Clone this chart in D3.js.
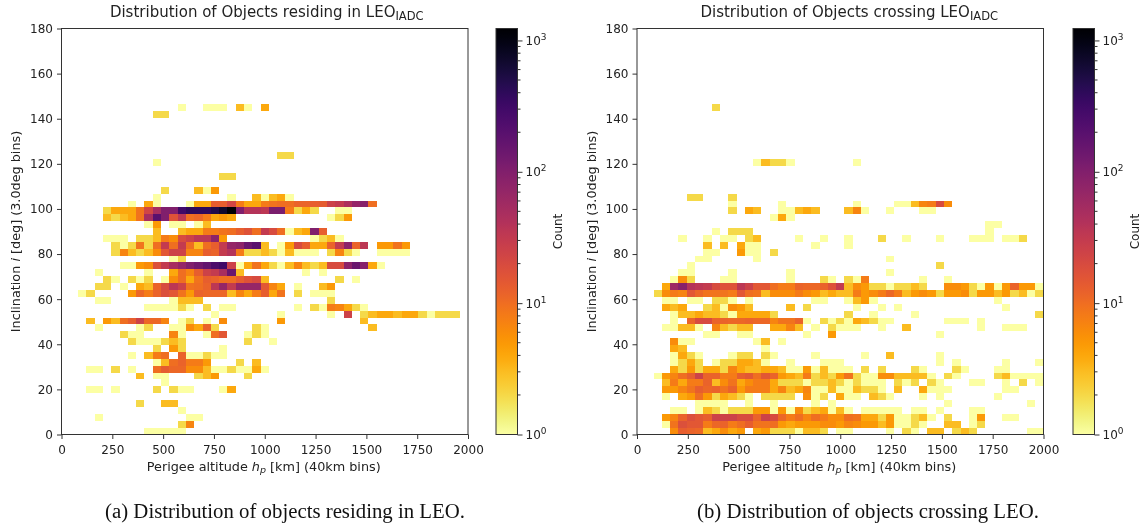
<!DOCTYPE html>
<html>
<head>
<meta charset="utf-8">
<script src="https://cdn.jsdelivr.net/npm/d3@7"></script>
<style>
body { margin: 0; background: #fff; }
svg { display: block; filter: blur(0.35px); }
text { font-family: "DejaVu Sans", sans-serif; fill: #222; }
.caption { font-family: "Liberation Serif", serif; fill: #111; }
.heat { filter: blur(0.3px); }
</style>
</head>
<body>
<div id="chart"></div>
<script>
var width = 1145;
var height = 526;

var altitudeTicks = [0, 250, 500, 750, 1000, 1250, 1500, 1750, 2000];
var inclinationTicks = [0, 20, 40, 60, 80, 100, 120, 140, 160, 180];
var altitudeBinCount = 49;
var inclinationBinCount = 59;

// each row: [inclination bin, {altitude bin: count}]
var residingCounts = [
  [47, {14:1, 17:1, 18:1, 19:1, 21:3, 22:1, 24:4}],
  [46, {11:2, 12:2}],
  [40, {26:2, 27:2}],
  [39, {11:1}],
  [37, {19:2, 20:2}],
  [35, {12:2, 16:3, 17:1, 18:5}],
  [34, {11:1, 20:1, 23:3, 24:1, 25:3, 26:4, 27:1}],
  [33, {8:1, 10:4, 11:1, 15:1, 16:4, 17:4, 18:13, 19:13, 20:22, 21:8, 22:4, 23:4, 24:8, 25:9, 26:10, 27:10, 28:12, 29:12, 30:13, 31:14, 32:25, 33:30, 34:45, 35:70, 36:90, 37:10}],
  [32, {5:2, 6:4, 7:4, 8:4, 9:9, 10:22, 11:50, 12:100, 13:100, 14:300, 15:400, 16:400, 17:400, 18:500, 19:700, 20:1200, 21:100, 22:40, 23:40, 24:35, 25:110, 26:110, 27:8, 28:2, 29:4, 30:2, 33:1, 34:1}],
  [31, {5:3, 6:2, 7:3, 8:4, 9:9, 10:50, 11:200, 12:100, 13:17, 14:35, 15:10, 16:11, 17:8, 18:4, 19:5, 20:4, 32:1, 33:2, 34:5}],
  [30, {10:1, 11:5, 13:1, 14:1, 16:1, 17:3}],
  [29, {11:3, 14:3, 15:4, 16:4, 17:8, 18:8, 19:9, 20:10, 21:13, 22:17, 23:10, 24:30, 25:20, 26:10, 27:1, 28:3, 29:4, 30:100, 31:13}],
  [28, {5:1, 6:1, 7:1, 9:2, 10:2, 11:3, 12:8, 13:6, 14:20, 15:25, 16:35, 17:35, 18:80, 19:5, 30:1, 31:2, 32:3, 33:1}],
  [27, {6:2, 7:1, 8:2, 9:9, 10:2, 11:10, 12:30, 13:10, 14:30, 15:10, 16:3, 17:10, 18:13, 19:30, 20:70, 21:80, 22:150, 23:200, 24:3, 26:1, 27:5, 28:20, 29:13, 30:4, 31:4, 32:12, 33:30, 34:80, 35:12, 36:35, 38:5, 39:5, 40:9, 41:5}],
  [26, {6:2, 7:7, 8:3, 9:2, 10:3, 11:6, 12:15, 13:25, 14:25, 15:7, 16:7, 17:13, 18:12, 19:30, 20:40, 21:8, 22:2, 23:2, 24:3, 25:2, 26:1, 27:3, 28:1, 29:1, 30:1, 32:2, 33:7, 34:2, 35:1, 38:1, 39:1, 40:1, 41:1}],
  [25, {13:1, 14:2}],
  [24, {7:1, 8:1, 9:5, 10:6, 11:18, 12:30, 13:50, 14:70, 15:100, 16:130, 17:170, 18:250, 19:300, 20:25, 21:1, 22:4, 23:9, 24:4, 25:2, 26:1, 27:3, 28:7, 29:3, 30:2, 31:3, 32:20, 33:20, 34:80, 35:150, 36:90, 37:4, 38:1}],
  [23, {4:1, 10:1, 13:4, 14:10, 15:7, 16:13, 17:25, 18:30, 19:50, 20:150, 21:3, 29:1, 31:1}],
  [22, {5:2, 6:1, 8:2, 9:1, 10:2, 12:1, 13:6, 14:10, 15:4, 16:9, 17:13, 18:12, 19:10, 20:10, 21:13, 22:17, 23:20, 24:3, 33:2, 35:1}],
  [21, {4:2, 5:2, 7:1, 9:4, 10:3, 11:12, 12:20, 13:35, 14:25, 15:9, 16:10, 17:12, 18:35, 19:70, 20:30, 21:70, 22:70, 23:70, 24:15, 25:7, 26:4, 28:1, 31:3, 32:5}],
  [20, {2:1, 3:2, 8:5, 9:11, 10:8, 11:12, 12:18, 13:15, 14:9, 15:5, 16:12, 17:11, 18:11, 19:11, 20:3, 21:7, 22:4, 23:8, 24:13, 25:4, 26:9, 28:2, 30:1, 31:1, 32:1}],
  [19, {4:1, 5:1, 13:1, 14:3, 15:3, 16:3, 32:2}],
  [18, {10:1, 11:1, 12:1, 13:1, 14:2, 15:1, 17:2, 19:1, 20:1, 28:1, 30:2, 31:1, 32:8, 33:7, 34:4, 35:2, 36:1}],
  [17, {18:1, 26:1, 32:1, 34:25, 36:2, 37:3, 38:4, 39:4, 40:3, 41:4, 42:4, 43:2, 44:1, 45:2, 46:2, 47:2}],
  [16, {3:3, 5:5, 6:3, 7:10, 8:13, 9:25, 10:11, 11:11, 12:7, 14:1, 15:2, 17:1, 19:6, 26:5, 36:3}],
  [15, {4:1, 9:1, 10:2, 13:1, 14:1, 15:6, 16:4, 17:12, 18:2, 23:2, 24:1, 37:3}],
  [14, {7:2, 8:1, 9:1, 13:7, 14:1, 17:1, 18:10, 19:15, 22:1, 23:2, 24:1}],
  [13, {8:2, 9:1, 10:1, 11:1, 12:2, 13:3, 14:2, 22:2, 25:1}],
  [12, {11:2, 13:5, 14:2, 19:1}],
  [11, {8:1, 10:3, 11:8, 12:10, 14:12, 15:1, 16:1, 17:2, 18:1, 19:1}],
  [10, {11:1, 12:3, 13:10, 14:12, 15:8, 16:8, 17:5, 21:2, 23:3}],
  [9, {3:1, 4:1, 6:2, 8:1, 11:10, 12:14, 13:11, 14:11, 15:6, 16:6, 17:3, 18:1, 19:1, 20:2, 21:1, 22:1, 23:4, 24:1}],
  [8, {9:3, 11:1, 12:1, 16:2, 17:3, 18:5, 22:2}],
  [7, {12:1}],
  [6, {3:1, 4:1, 6:1, 11:2, 13:2, 14:1, 15:1, 19:1, 20:4}],
  [4, {9:2, 12:3, 13:3}],
  [3, {14:1}],
  [2, {4:1, 15:1, 16:1}],
  [1, {14:2, 15:7}],
  [0, {10:1, 11:1, 12:1, 13:1, 14:1}]
];

var crossingCounts = [
  [47, {9:2}],
  [39, {14:1, 15:3, 16:2, 17:2, 18:1, 26:1}],
  [34, {6:2, 7:2, 11:2}],
  [33, {11:1, 17:1, 26:1, 31:1, 32:1, 33:3, 34:7, 35:8, 36:20, 37:6}],
  [32, {11:2, 13:4, 14:3, 17:1, 18:1, 19:3, 20:4, 21:3, 25:3, 26:7, 27:1, 30:1, 34:1, 35:1}],
  [31, {16:1, 17:4, 18:1}],
  [30, {42:1, 43:1}],
  [29, {9:1, 11:2, 12:2, 13:2, 42:1}],
  [28, {5:1, 8:1, 10:1, 11:1, 13:2, 14:3, 19:1, 22:1, 25:1, 29:2, 32:1, 36:1, 40:1, 41:1, 42:1, 44:1, 45:1, 46:2}],
  [27, {8:3, 10:3, 12:4, 13:1, 14:1, 21:1, 25:1}],
  [26, {8:1, 9:1, 12:5, 13:1, 14:1, 16:2}],
  [25, {7:1, 8:1, 14:1, 30:1}],
  [24, {6:1, 36:2}],
  [23, {5:1, 6:1, 11:1, 18:1, 30:1}],
  [22, {4:1, 5:6, 6:2, 10:1, 11:1, 18:1, 22:2, 23:1, 25:2, 26:1, 27:8, 34:1, 37:1}],
  [21, {3:4, 4:60, 5:90, 6:40, 7:35, 8:30, 9:20, 10:17, 11:17, 12:35, 13:25, 14:15, 15:15, 16:10, 17:8, 18:8, 19:12, 20:11, 21:11, 22:12, 23:17, 24:30, 25:3, 26:6, 27:5, 28:2, 29:2, 30:1, 31:2, 32:2, 33:3, 34:2, 37:6, 38:6, 39:5, 40:2, 41:1, 42:5, 43:1, 44:5, 45:12, 46:5, 47:5, 48:1}],
  [20, {2:2, 3:6, 4:8, 5:7, 6:15, 7:11, 8:9, 9:9, 10:9, 11:8, 12:15, 13:10, 14:9, 15:3, 16:6, 17:6, 18:6, 19:8, 20:6, 21:5, 22:3, 23:4, 24:3, 25:3, 26:8, 27:5, 28:6, 29:8, 30:11, 31:8, 32:3, 33:5, 34:6, 35:5, 36:2, 37:5, 38:5, 39:6, 40:2, 41:5, 42:5, 43:3, 44:5, 45:2, 46:3, 47:1, 48:2}],
  [19, {3:1, 4:1, 6:1, 7:1, 9:2, 10:2, 11:1, 13:1, 21:1, 22:1, 25:1, 26:3, 27:5, 28:1, 43:1}],
  [18, {3:4, 4:3, 5:4, 8:2, 9:3, 10:1, 11:6, 12:5, 13:3, 18:3, 20:2, 26:1, 29:1, 31:1, 44:1}],
  [17, {4:1, 5:3, 6:3, 7:4, 8:3, 9:3, 10:2, 11:1, 12:4, 13:4, 14:4, 15:4, 16:2, 25:2, 28:1, 33:1, 48:2}],
  [16, {4:1, 6:12, 7:20, 8:20, 9:12, 10:12, 11:11, 12:11, 13:12, 14:11, 15:11, 16:7, 17:9, 18:9, 19:12, 20:1, 22:2, 23:1, 24:2, 25:1, 26:4, 27:3, 28:2, 29:1, 30:1, 37:1, 38:1, 39:1, 41:1}],
  [15, {3:1, 4:1, 5:3, 6:3, 7:1, 9:7, 10:3, 11:2, 12:3, 13:3, 16:4, 17:4, 18:7, 19:3, 21:1, 23:2, 24:1, 25:1, 26:1, 29:1, 32:3, 41:1, 44:1, 45:1, 46:1}],
  [14, {8:1, 9:1, 12:1, 13:1, 20:1, 23:5, 36:1}],
  [13, {4:6, 5:1, 6:1, 14:1, 15:3, 17:1}],
  [12, {4:4, 5:3, 15:1}],
  [11, {4:1, 5:4, 6:2, 7:1, 11:1, 12:2, 13:2, 15:2, 16:1, 21:1, 27:1, 30:3, 36:1}],
  [10, {4:1, 5:2, 6:4, 7:2, 9:1, 10:2, 11:2, 12:4, 13:4, 14:3, 15:1, 18:1, 22:1, 23:1, 24:1, 36:1, 38:1, 44:1, 48:1}],
  [9, {4:4, 5:2, 6:5, 7:2, 8:4, 9:4, 10:2, 11:7, 12:4, 13:3, 14:3, 15:4, 16:4, 17:3, 18:1, 19:1, 20:5, 21:1, 22:3, 23:1, 24:1, 25:1, 27:2, 29:2, 33:2, 34:1, 38:2, 39:1, 43:1, 44:1}],
  [8, {2:1, 3:5, 4:7, 5:10, 6:13, 7:25, 8:12, 9:12, 10:8, 11:8, 12:13, 13:15, 14:10, 15:15, 16:12, 17:5, 18:4, 19:3, 20:8, 21:2, 22:3, 23:2, 24:5, 25:9, 26:2, 27:1, 28:1, 29:6, 30:6, 31:3, 32:3, 33:3, 34:3, 35:1, 37:2, 38:1, 43:2, 44:3, 45:1, 46:1, 47:1, 48:1}],
  [7, {3:3, 4:8, 5:4, 6:8, 7:8, 8:12, 9:3, 10:6, 11:9, 12:4, 13:6, 14:8, 15:8, 16:4, 17:2, 18:2, 19:2, 20:1, 21:2, 22:2, 23:3, 24:2, 25:1, 26:2, 27:1, 28:1, 29:1, 31:2, 32:1, 33:2, 35:2, 36:1, 40:1, 41:1, 44:1, 46:2, 48:1}],
  [6, {3:5, 4:5, 5:7, 6:9, 7:13, 8:11, 9:12, 10:9, 11:12, 12:5, 13:8, 14:8, 15:8, 16:4, 17:7, 18:3, 19:4, 20:7, 21:1, 22:1, 23:3, 24:1, 25:1, 26:3, 27:2, 28:2, 29:1, 31:3, 34:4, 35:1, 36:1, 37:1, 44:1, 45:1}],
  [5, {3:1, 5:4, 6:5, 7:10, 8:5, 9:2, 10:4, 11:3, 12:2, 13:1, 15:2, 16:2, 17:2, 18:2, 20:6, 21:1, 22:2, 24:4, 25:1, 26:1, 28:3, 29:2, 30:1, 34:1, 36:1, 43:1}],
  [4, {7:1, 8:1, 9:1, 10:1, 13:1, 16:1, 21:1, 23:1, 37:1, 47:1}],
  [3, {4:1, 5:1, 7:1, 8:3, 9:2, 10:1, 11:2, 12:2, 13:2, 14:5, 15:5, 16:1, 17:5, 18:1, 19:6, 20:2, 21:3, 22:4, 23:1, 24:3, 25:1, 27:1, 28:1, 29:1, 30:1, 31:1, 33:1, 34:1, 36:1, 40:1, 41:1}],
  [2, {3:5, 4:7, 5:12, 6:18, 7:15, 8:13, 9:25, 10:25, 11:25, 12:20, 13:20, 14:12, 15:25, 16:20, 17:11, 18:8, 19:10, 20:7, 21:10, 22:8, 23:6, 24:6, 25:10, 26:9, 27:4, 28:4, 29:2, 30:5, 31:1, 32:1, 33:2, 34:3, 35:1, 37:2, 40:1, 41:5, 44:1, 45:1}],
  [1, {3:1, 4:9, 5:18, 6:15, 7:15, 8:8, 9:11, 10:12, 11:8, 12:10, 13:13, 14:9, 15:9, 16:10, 17:5, 18:4, 19:5, 20:5, 21:5, 22:6, 23:6, 24:5, 25:7, 26:6, 27:5, 28:5, 29:3, 30:5, 31:1, 32:1, 33:2, 34:1, 37:3, 38:3, 40:1, 41:2}],
  [0, {4:6, 5:13, 6:12, 7:11, 8:3, 9:4, 10:6, 11:4, 12:5, 14:4, 15:5, 16:2, 17:2, 18:2, 19:1, 20:3, 21:3, 22:2, 24:1, 25:1, 30:1, 32:2, 33:1, 35:3, 36:3, 38:2, 39:3, 40:2, 47:1, 48:1}]
];

var color = d3.scaleSequentialLog(function(t){ return d3.interpolateInferno(1 - t); })
              .domain([1, 1233]);

var svg = d3.select("#chart")
            .append("svg")
            .attr("width", width)
            .attr("height", height);

// colorbar gradient shared by both panels
var gradient = svg.append("defs").append("linearGradient")
                  .attr("id", "cbar")
                  .attr("x1", 0).attr("y1", 1).attr("x2", 0).attr("y2", 0);
gradient.selectAll("stop")
        .data(d3.range(0, 1.001, 0.02))
        .enter()
        .append("stop")
        .attr("offset", function(d){ return d; })
        .attr("stop-color", function(d){ return d3.interpolateInferno(1 - d); });

function drawPanel(opts){
    var left = opts.left;
    var right = left + 406.5;
    var top = 28.5;
    var bottom = 434.5;

    var xScale = d3.scaleLinear().domain([0, 2000]).range([left, right]);
    var yScale = d3.scaleLinear().domain([0, 180]).range([bottom, top]);
    var xBin = 2000 / altitudeBinCount;
    var yBin = 180 / inclinationBinCount;

    var cells = [];
    opts.rows.forEach(function(row){
        Object.keys(row[1]).forEach(function(c){
            cells.push({ k: row[0], c: +c, count: row[1][c] });
        });
    });

    svg.append("g")
       .attr("class", "heat")
       .selectAll("rect")
       .data(cells)
       .enter()
       .append("rect")
       .attr("shape-rendering", "crispEdges")
       .attr("x", function(d){ return xScale(d.c * xBin); })
       .attr("y", function(d){ return yScale((d.k + 1) * yBin); })
       .attr("width", function(d){ return xScale((d.c + 1) * xBin) - xScale(d.c * xBin); })
       .attr("height", function(d){ return yScale(d.k * yBin) - yScale((d.k + 1) * yBin); })
       .attr("fill", function(d){ return color(d.count); });

    svg.append("rect")
       .attr("x", left).attr("y", top)
       .attr("width", right - left).attr("height", bottom - top)
       .attr("fill", "none").attr("stroke", "#333").attr("stroke-width", 1);

    var xAxis = d3.axisBottom(xScale).tickValues(altitudeTicks).tickSize(4.5).tickPadding(6).tickFormat(d3.format("d"));
    var yAxis = d3.axisLeft(yScale).tickValues(inclinationTicks).tickSize(4.5).tickPadding(4).tickFormat(d3.format("d"));

    var gx = svg.append("g").attr("transform", "translate(0," + bottom + ")").call(xAxis);
    var gy = svg.append("g").attr("transform", "translate(" + left + ",0)").call(yAxis);
    [gx, gy].forEach(function(g){
        g.select(".domain").remove();
        g.selectAll("line").attr("stroke", "#333");
        g.selectAll("text").style("font-size", "12px").style("font-family", '"DejaVu Sans"').attr("fill", "#222");
    });

    // title with subscript
    var title = svg.append("text")
                   .attr("x", (left + right) / 2 + opts.titleShift)
                   .attr("y", 17)
                   .attr("text-anchor", "middle")
                   .style("font-size", "15px");
    title.append("tspan").text(opts.title);
    title.append("tspan").attr("dy", 3).style("font-size", "11.5px").text("IADC");

    var xl = svg.append("text")
                .attr("x", (left + right) / 2 - 1)
                .attr("y", 471)
                .attr("text-anchor", "middle")
                .style("font-size", "12.8px");
    xl.append("tspan").text("Perigee altitude ");
    xl.append("tspan").style("font-style", "italic").text("h");
    xl.append("tspan").style("font-style", "italic").style("font-size", "9.5px").attr("dy", 2).text("p");
    xl.append("tspan").attr("dy", -2).text(" [km] (40km bins)");

    var yl = svg.append("text")
                .attr("transform", "translate(" + (left - 41.5) + "," + ((top + bottom) / 2) + ") rotate(-90)")
                .attr("text-anchor", "middle")
                .style("font-size", "12.8px");
    yl.append("tspan").text("Inclination ");
    yl.append("tspan").style("font-style", "italic").text("i");
    yl.append("tspan").text(" [deg] (3.0deg bins)");

    // colorbar
    var cbLeft = opts.cbLeft;
    var cbWidth = 21.5;
    var cScale = d3.scaleLog().domain([1, 1233]).range([bottom, top]);

    svg.append("rect")
       .attr("x", cbLeft).attr("y", top)
       .attr("width", cbWidth).attr("height", bottom - top)
       .attr("fill", "url(#cbar)")
       .attr("stroke", "#333").attr("stroke-width", 1);

    var minorTicks = [];
    [1, 10, 100, 1000].forEach(function(base){
        d3.range(2, 10).forEach(function(m){
            if (base * m < 1233) minorTicks.push(base * m);
        });
    });
    var gc = svg.append("g").attr("transform", "translate(" + (cbLeft + cbWidth) + ",0)");
    gc.selectAll("line.minor")
      .data(minorTicks)
      .enter()
      .append("line")
      .attr("x2", 3)
      .attr("y1", function(d){ return cScale(d); })
      .attr("y2", function(d){ return cScale(d); })
      .attr("stroke", "#333");
    gc.call(d3.axisRight(cScale).tickValues([1, 10, 100, 1000]).tickSize(5).tickFormat(""));
    gc.select(".domain").remove();
    gc.selectAll(".tick line").attr("stroke", "#333");

    [[1, "0"], [10, "1"], [100, "2"], [1000, "3"]].forEach(function(d){
        var t = svg.append("text")
                   .attr("x", cbLeft + cbWidth + 8)
                   .attr("y", cScale(d[0]) + 4.5)
                   .style("font-size", "12px");
        t.append("tspan").text("10");
        t.append("tspan").attr("dy", -5).style("font-size", "9px").text(d[1]);
    });

    svg.append("text")
       .attr("transform", "translate(" + (cbLeft + 66) + "," + ((top + bottom) / 2) + ") rotate(-90)")
       .attr("text-anchor", "middle")
       .style("font-size", "12px")
       .text("Count");

    svg.append("text")
       .attr("class", "caption")
       .attr("x", opts.captionX)
       .attr("y", 518)
       .attr("text-anchor", "middle")
       .style("font-size", "20.8px")
       .text(opts.caption);
}

drawPanel({
    left: 61.5,
    cbLeft: 496,
    rows: residingCounts,
    title: "Distribution of Objects residing in LEO",
    titleShift: 2,
    caption: "(a) Distribution of objects residing in LEO.",
    captionX: 285
});

drawPanel({
    left: 637,
    cbLeft: 1073,
    rows: crossingCounts,
    title: "Distribution of Objects crossing LEO",
    titleShift: 9,
    caption: "(b) Distribution of objects crossing LEO.",
    captionX: 868
});
</script>
</body>
</html>
